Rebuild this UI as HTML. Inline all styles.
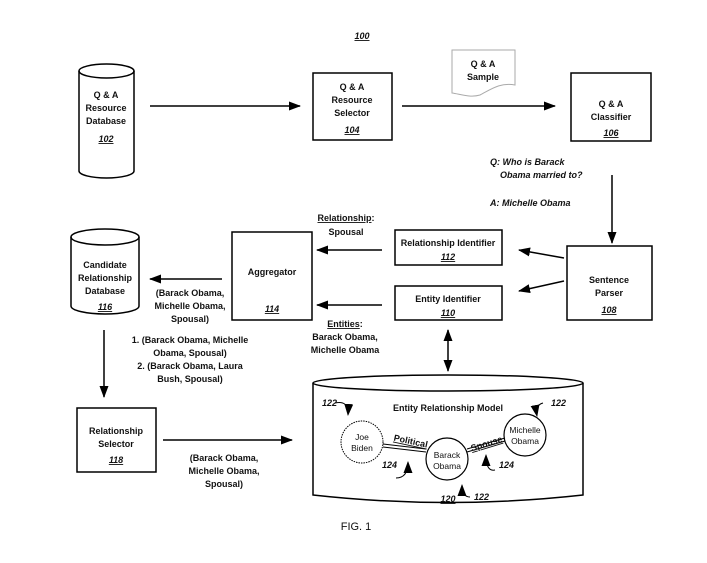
<!DOCTYPE html>
<html><head><style>
body{margin:0;background:#fff}
text{font-family:"Liberation Sans",sans-serif;font-size:9px;font-weight:bold;fill:#111}
.i{font-style:italic}
.n{font-weight:normal;font-size:8.5px}
</style></head><body>
<svg width="707" height="558" viewBox="0 0 707 558" xmlns="http://www.w3.org/2000/svg">
<defs><marker id="a" markerWidth="12" markerHeight="9" refX="11" refY="4.5" orient="auto" markerUnits="userSpaceOnUse"><path d="M0,0 L12,4.5 L0,9z" fill="#000"/></marker>
<marker id="b" markerWidth="12" markerHeight="9" refX="1" refY="4.5" orient="auto" markerUnits="userSpaceOnUse"><path d="M12,0 L0,4.5 L12,9z" fill="#000"/></marker></defs>
<g stroke="#000" stroke-width="1.5" fill="none">
<path d="M79,71 V171 A27.5,7 0 0 0 134,171 V71"/><ellipse cx="106.5" cy="71" rx="27.5" ry="7"/>
<rect x="313" y="73" width="79" height="67"/>
<rect x="571" y="73" width="80" height="68"/>
<path d="M452,50 H515 V85 C500,82 490,90 480,95 C470,98 460,94 452,93Z" stroke="#aaa" stroke-width="1"/>
<line x1="150" y1="106" x2="300" y2="106" marker-end="url(#a)"/>
<line x1="402" y1="106" x2="555" y2="106" marker-end="url(#a)"/>
<line x1="612" y1="175" x2="612" y2="243" marker-end="url(#a)"/>
<rect x="567" y="246" width="85" height="74"/>
<rect x="395" y="230" width="107" height="35"/>
<rect x="395" y="286" width="107" height="34"/>
<line x1="564" y1="258" x2="519" y2="250" marker-end="url(#a)"/>
<line x1="564" y1="281" x2="519" y2="291" marker-end="url(#a)"/>
<rect x="232" y="232" width="80" height="88"/>
<line x1="382" y1="250" x2="317" y2="250" marker-end="url(#a)"/>
<line x1="382" y1="305" x2="317" y2="305" marker-end="url(#a)"/>
<path d="M71,237 V306 A34,8 0 0 0 139,306 V237"/><ellipse cx="105" cy="237" rx="34" ry="8"/>
<line x1="222" y1="279" x2="150" y2="279" marker-end="url(#a)"/>
<line x1="104" y1="330" x2="104" y2="397" marker-end="url(#a)"/>
<rect x="77" y="408" width="79" height="64"/>
<line x1="163" y1="440" x2="292" y2="440" marker-end="url(#a)"/>
<line x1="448" y1="330" x2="448" y2="371" marker-start="url(#b)" marker-end="url(#a)"/>
<path d="M313,383 V495 Q448,510 583,495 V383"/><ellipse cx="448" cy="383" rx="135" ry="8"/>
<circle cx="362" cy="442" r="21" stroke-dasharray="1.5,1" stroke-width="1"/>
<circle cx="447" cy="459" r="21" stroke-width="1.2"/>
<circle cx="525" cy="435" r="21" stroke-width="1.2"/>
<line x1="383" y1="447" x2="426" y2="452" stroke-width="1"/>
<line x1="383" y1="444" x2="426" y2="449" stroke-width="1"/>
<line x1="467" y1="452" x2="505" y2="441" stroke-width="1"/>
<line x1="467" y1="449" x2="505" y2="438" stroke-width="1"/>
<g stroke-width="1"><path d="M335,403 Q349,400 348,415" marker-end="url(#a)"/>
<path d="M396,478 Q408,478 408,462" marker-end="url(#a)"/>
<path d="M495,470 Q486,472 486,455" marker-end="url(#a)"/>
<path d="M543,403 Q535,405 537,416" marker-end="url(#a)"/>
<path d="M470,497 Q462,497 462,485" marker-end="url(#a)"/></g>
</g>
<g text-anchor="middle">
<text x="362" y="39" class="i" text-decoration="underline">100</text>
<text x="106" y="98">Q &amp; A</text><text x="106" y="111">Resource</text><text x="106" y="124">Database</text><text x="106" y="142" class="i" text-decoration="underline">102</text>
<text x="352" y="90">Q &amp; A</text><text x="352" y="103">Resource</text><text x="352" y="116">Selector</text><text x="352" y="133" class="i" text-decoration="underline">104</text>
<text x="483" y="67">Q &amp; A</text><text x="483" y="80">Sample</text>
<text x="611" y="107">Q &amp; A</text><text x="611" y="120">Classifier</text><text x="611" y="136" class="i" text-decoration="underline">106</text>
<text x="609" y="283">Sentence</text><text x="609" y="296">Parser</text><text x="609" y="313" class="i" text-decoration="underline">108</text>
<text x="448" y="246">Relationship Identifier</text><text x="448" y="260" class="i" text-decoration="underline">112</text>
<text x="448" y="302">Entity Identifier</text><text x="448" y="316" class="i" text-decoration="underline">110</text>
<text x="272" y="275">Aggregator</text><text x="272" y="312" class="i" text-decoration="underline">114</text>
<text x="346" y="221"><tspan text-decoration="underline">Relationship</tspan>:</text><text x="346" y="235">Spousal</text>
<text x="345" y="327"><tspan text-decoration="underline">Entities</tspan>:</text><text x="345" y="340">Barack Obama,</text><text x="345" y="353">Michelle Obama</text>
<text x="105" y="268">Candidate</text><text x="105" y="281">Relationship</text><text x="105" y="294">Database</text><text x="105" y="310" class="i" text-decoration="underline">116</text>
<text x="190" y="296">(Barack Obama,</text><text x="190" y="309">Michelle Obama,</text><text x="190" y="322">Spousal)</text>
<text x="190" y="343">1. (Barack Obama, Michelle</text><text x="190" y="356">Obama, Spousal)</text><text x="190" y="369">2. (Barack Obama, Laura</text><text x="190" y="382">Bush, Spousal)</text>
<text x="116" y="434">Relationship</text><text x="116" y="447">Selector</text><text x="116" y="463" class="i" text-decoration="underline">118</text>
<text x="224" y="461">(Barack Obama,</text><text x="224" y="474">Michelle Obama,</text><text x="224" y="487">Spousal)</text>
<text x="448" y="411">Entity Relationship Model</text>
<text x="362" y="440" class="n">Joe</text><text x="362" y="451" class="n">Biden</text>
<text x="447" y="458" class="n">Barack</text><text x="447" y="469" class="n">Obama</text>
<text x="525" y="433" class="n">Michelle</text><text x="525" y="444" class="n">Obama</text>
<text x="448" y="502" class="i" text-decoration="underline">120</text>
<text x="356" y="530" style="font-weight:normal;font-size:11px">FIG. 1</text>
</g>
<text x="490" y="165" class="i">Q: Who is Barack</text><text x="500" y="178" class="i">Obama married to?</text>
<text x="490" y="206" class="i">A: Michelle Obama</text>
<text x="393" y="443" text-decoration="underline" transform="rotate(12 405 443)">Political</text>
<text x="470" y="447" text-decoration="underline" transform="rotate(-17 485 443)">Spouse</text>
<text x="322" y="406" class="i">122</text><text x="551" y="406" class="i">122</text>
<text x="382" y="468" class="i">124</text><text x="499" y="468" class="i">124</text><text x="474" y="500" class="i">122</text>
</svg>
</body></html>
